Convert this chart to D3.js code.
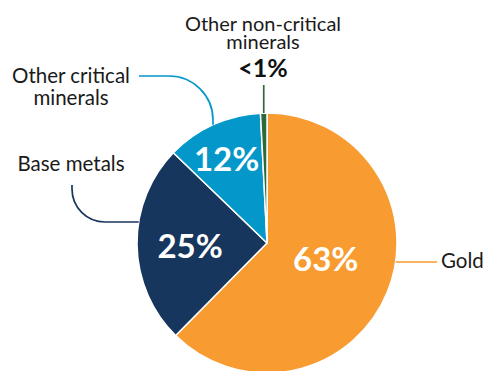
<!DOCTYPE html>
<html>
<head>
<meta charset="utf-8">
<script src="https://cdn.jsdelivr.net/npm/d3@7"></script>
<style>
  body { margin: 0; background: #fff; }
  svg text { font-family: "Source Sans Pro", Lato, sans-serif; }
</style>
</head>
<body>
<div id="chart"></div>
<script>
// Share of value by mineral group
const categories = ["Gold", "Base metals", "Other critical minerals", "Other non-critical minerals"];
const shares = [62.4, 24.8, 12.0, 0.8];
const valueLabels = ["63%", "25%", "12%", "<1%"];
const colors = ["#f89b31", "#17365d", "#0497ca", "#2e6a39"];

// Setup
const width = 483;
const height = 371;
const cx = 267;
const cy = 243;
const radius = 130;

const svg = d3.select("#chart")
    .append("svg")
    .attr("width", width)
    .attr("height", height);

const g = svg.append("g")
    .attr("transform", `translate(${cx},${cy})`);

const pie = d3.pie()
    .sort(null)
    .value(d => d.value);

const data = categories.map((c, i) => ({ name: c, value: shares[i], label: valueLabels[i], color: colors[i] }));
const arcs = pie(data);

const arc = d3.arc()
    .innerRadius(0)
    .outerRadius(radius);

g.selectAll("path.slice")
    .data(arcs)
    .join("path")
    .attr("class", "slice")
    .attr("d", arc)
    .attr("fill", d => d.data.color)
    .attr("stroke", "#fff")
    .attr("stroke-width", 1.5)
    .attr("stroke-linejoin", "round");

// white percentage labels inside the three big slices
// [radius, how far along the slice] for each label
const labelSpot = {
  "Gold": [61, 0.47],
  "Base metals": [77, 0.48],
  "Other critical minerals": [93, 0.47]
};
arcs.filter(d => labelSpot[d.data.name]).forEach(d => {
  const [r, t] = labelSpot[d.data.name];
  const a = d.startAngle + t * (d.endAngle - d.startAngle);
  g.append("text")
      .attr("x", r * Math.sin(a))
      .attr("y", -r * Math.cos(a))
      .attr("dy", "0.36em")
      .attr("text-anchor", "middle")
      .attr("fill", "#fff")
      .attr("font-weight", 700)
      .attr("font-size", 33)
      .text(d.data.label);
});

// point on the pie edge at a given height (relative to the centre)
function edgeX(y, side) {
  return side * Math.sqrt(radius * radius - y * y);
}
function edgeY(x) {
  return -Math.sqrt(radius * radius - x * x);
}

const lines = g.append("g")
    .attr("fill", "none")
    .attr("stroke-width", 1.7);

// Gold: straight line out to the right
const goldY = 19;
lines.append("path")
    .attr("stroke", colors[0])
    .attr("d", d3.line()([[edgeX(goldY, 1), goldY], [170, goldY]]));

g.append("text")
    .attr("x", 174)
    .attr("y", goldY + 6)
    .attr("font-size", 20.5)
    .attr("fill", "#1a1a1a")
    .text(categories[0]);

// Base metals: drop down then turn right into the slice
const baseY = -21;
const bp = d3.path();
bp.moveTo(-195, -58);
bp.arcTo(-195, baseY, -160, baseY, 33);
bp.lineTo(edgeX(baseY, -1), baseY);
lines.append("path")
    .attr("stroke", colors[1])
    .attr("d", bp.toString());

g.append("text")
    .attr("x", -196)
    .attr("y", -72)
    .attr("text-anchor", "middle")
    .attr("font-size", 20.5)
    .attr("fill", "#1a1a1a")
    .text(categories[1]);

// Other critical minerals: across then down onto the slice
const ocX = -54;
const op = d3.path();
op.moveTo(-128, -167);
op.arcTo(ocX, -167, ocX, edgeY(ocX), 44);
op.lineTo(ocX, edgeY(ocX));
lines.append("path")
    .attr("stroke", colors[2])
    .attr("d", op.toString());

const oc = g.append("text")
    .attr("text-anchor", "middle")
    .attr("font-size", 20.5)
    .attr("fill", "#1a1a1a");
oc.append("tspan").attr("x", -196).attr("y", -160).text("Other critical");
oc.append("tspan").attr("x", -196).attr("y", -138).text("minerals");

// Other non-critical minerals: short vertical line above the sliver
const sliver = arcs[3];
const mid = (sliver.startAngle + sliver.endAngle) / 2;
const sx = radius * Math.sin(mid);
lines.append("path")
    .attr("stroke", colors[3])
    .attr("d", d3.line()([[sx, -158], [sx, edgeY(sx)]]));

const onc = g.append("text")
    .attr("text-anchor", "middle")
    .attr("font-size", 20)
    .attr("fill", "#1a1a1a");
onc.append("tspan").attr("x", -4).attr("y", -212).text("Other non-critical");
onc.append("tspan").attr("x", -4).attr("y", -194).text("minerals");

g.append("text")
    .attr("x", -4)
    .attr("y", -166)
    .attr("text-anchor", "middle")
    .attr("font-size", 25)
    .attr("font-weight", 700)
    .attr("fill", "#111")
    .text(valueLabels[3]);
</script>
</body>
</html>
